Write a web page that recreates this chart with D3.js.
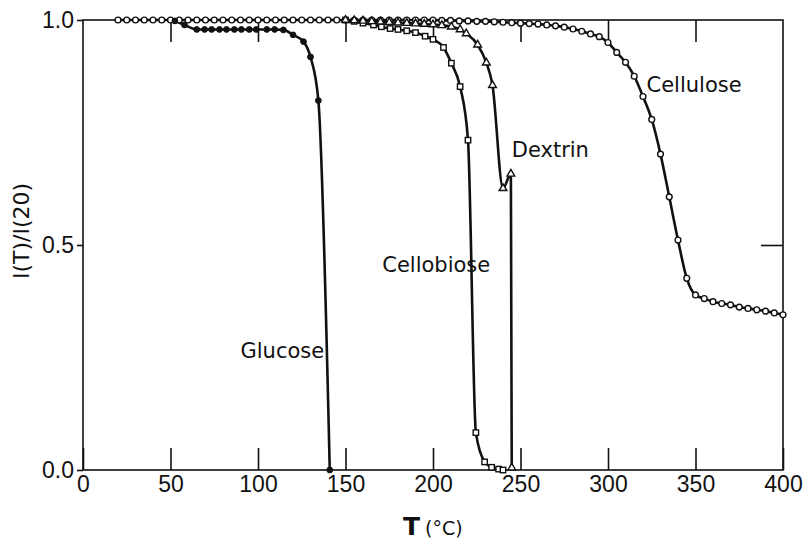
<!DOCTYPE html>
<html>
<head>
<meta charset="utf-8">
<script src="https://cdn.jsdelivr.net/npm/d3@7"></script>
<style>
  html, body { margin: 0; padding: 0; background: #fff; }
  svg { display: block; }
  .tick text { font-family: "Liberation Sans", Arial, sans-serif; font-size: 23px; fill: #111; }
  .lbl { font-family: "DejaVu Sans", sans-serif; font-size: 21px; fill: #111; }
</style>
</head>
<body>
<svg id="chart" width="804" height="543"></svg>
<script>
// Normalised intensity I(T)/I(20) versus temperature for four carbohydrates.
const xTicks = [0, 50, 100, 150, 200, 250, 300, 350, 400];
const yTicks = [0.0, 0.5, 1.0];

// Cellulose (open circles)
const celluloseT = [20,25,30,35,40,45,50,55,60,65,70,75,80,85,90,95,100,105,110,115,120,125,130,135,140,145,150,155,160,165,170,175,180,185,190,195,200,
  205,210,215,220,225,230,235,240,245,250,255,260,265,270,275,280,285,290,295,300,305,310,315,320,325,330,335,340,345,350,355,360,365,370,375,380,385,390,395,400];
const celluloseI = [1,1,1,1,1,1,1,1,1,1,1,1,1,1,1,1,1,1,1,1,1,1,1,1,1,1,1,1,1,1,1,1,1,1,1,1,1,
  0.999,0.999,0.998,0.998,0.997,0.997,0.996,0.995,0.994,0.993,0.992,0.991,0.989,0.987,0.984,0.980,0.975,0.969,0.963,0.950,
  0.928,0.906,0.875,0.830,0.779,0.702,0.607,0.511,0.426,0.389,0.381,0.374,0.370,0.367,0.362,0.359,0.356,0.353,0.349,0.345];

// Glucose (filled circles)
const glucoseT = [52.5,58,65,69.5,73.5,78,82,86.5,90.5,95,99,105,109.5,114.5,120,126,130,134.5,141];
const glucoseI = [0.998,0.989,0.979,0.979,0.979,0.979,0.979,0.979,0.979,0.979,0.979,0.979,0.979,0.978,0.967,0.952,0.918,0.821,0.0];

// Cellobiose (open squares)
const cellobioseT = [150,155,160,166,170.5,175.5,180,185,190,195.5,200,206,210.5,215.5,220,224.5,229.5,233.5,237.5,240];
const cellobioseI = [1.0,0.997,0.993,0.989,0.985,0.981,0.979,0.976,0.972,0.964,0.957,0.939,0.904,0.852,0.733,0.083,0.018,0.006,0.002,0.0];

// Dextrin (open triangles)
const dextrinT = [150,155,160,165,170,175,180,185,190,195,200,205,210.5,215.5,219,225.5,230.5,234,240,244.5,245];
const dextrinI = [1.0,0.999,0.998,0.997,0.996,0.995,0.994,0.993,0.992,0.991,0.99,0.988,0.985,0.979,0.970,0.945,0.905,0.855,0.626,0.658,0.005];

const labels = [
  { text: "Glucose",    t: 90,  v: 0.25 },
  { text: "Cellobiose", t: 171, v: 0.44 },
  { text: "Dextrin",    t: 245, v: 0.695 },
  { text: "Cellulose",  t: 322, v: 0.84 }
];

const svg = d3.select("#chart");
const x = d3.scaleLinear().domain([0, 400]).range([83, 783]);
const y = d3.scaleLinear().domain([0, 1]).range([470, 20]);

const ink = "#111";

// frame
svg.append("rect")
  .attr("x", x(0)).attr("y", y(1))
  .attr("width", x(400) - x(0)).attr("height", y(0) - y(1))
  .attr("fill", "none").attr("stroke", ink).attr("stroke-width", 1.6);

function styleAxis(g) {
  g.select(".domain").remove();
  g.selectAll(".tick line").attr("stroke", ink).attr("stroke-width", 1.6);
}

svg.append("g").attr("transform", `translate(0,${y(0)})`)
  .call(d3.axisBottom(x).tickValues(xTicks).tickSize(-22).tickPadding(5).tickFormat(d3.format("d")))
  .call(styleAxis)
  .selectAll("text").attr("dy", "0.72em");

svg.append("g").attr("transform", `translate(0,${y(1)})`)
  .call(d3.axisTop(x).tickValues(xTicks.slice(1, -1)).tickSize(-22).tickFormat(""))
  .call(styleAxis);

svg.append("g").attr("transform", `translate(${x(0)},0)`)
  .call(d3.axisLeft(y).tickValues(yTicks).tickSize(6).tickPadding(3).tickFormat(d3.format(".1f")))
  .call(styleAxis);

svg.append("g").attr("transform", `translate(${x(400)},0)`)
  .call(d3.axisRight(y).tickValues([0.5]).tickSize(-22).tickFormat(""))
  .call(styleAxis);

const line = d3.line().x(d => x(d[0])).y(d => y(d[1])).curve(d3.curveMonotoneX);
const zipSeries = (ts, vs) => ts.map((t, i) => [t, vs[i]]);

const cellulose = zipSeries(celluloseT, celluloseI);
const glucose = zipSeries(glucoseT, glucoseI);
const cellobiose = zipSeries(cellobioseT, cellobioseI);
const dextrin = zipSeries(dextrinT, dextrinI);

[cellulose, cellobiose, dextrin, glucose].forEach(s => {
  svg.append("path").datum(s).attr("d", line)
    .attr("fill", "none").attr("stroke", ink).attr("stroke-width", 2.6);
});

// markers
svg.append("g").selectAll("circle").data(cellulose).join("circle")
  .attr("cx", d => x(d[0])).attr("cy", d => y(d[1])).attr("r", 2.9)
  .attr("fill", "#fff").attr("stroke", ink).attr("stroke-width", 1.4);

svg.append("g").selectAll("rect").data(cellobiose).join("rect")
  .attr("x", d => x(d[0]) - 2.7).attr("y", d => y(d[1]) - 2.7)
  .attr("width", 5.4).attr("height", 5.4)
  .attr("fill", "#fff").attr("stroke", ink).attr("stroke-width", 1.4);

const tri = d3.symbol().type(d3.symbolTriangle).size(26);
svg.append("g").selectAll("path").data(dextrin).join("path")
  .attr("transform", d => `translate(${x(d[0])},${y(d[1])})`)
  .attr("d", tri)
  .attr("fill", "#fff").attr("stroke", ink).attr("stroke-width", 1.4);

svg.append("g").selectAll("circle").data(glucose).join("circle")
  .attr("cx", d => x(d[0])).attr("cy", d => y(d[1])).attr("r", 2.9)
  .attr("fill", ink).attr("stroke", ink).attr("stroke-width", 1);

// curve labels
svg.append("g").selectAll("text").data(labels).join("text")
  .attr("class", "lbl")
  .attr("x", d => x(d.t)).attr("y", d => y(d.v))
  .text(d => d.text);

// axis titles
const xt = svg.append("text")
  .attr("x", 403).attr("y", 535)
  .attr("font-family", "DejaVu Sans, sans-serif").attr("fill", ink);
xt.append("tspan").attr("font-size", 25).attr("font-weight", "bold").text("T");
xt.append("tspan").attr("font-size", 19).attr("dx", 5).text("(°C)");

svg.append("text")
  .attr("transform", "translate(29,231) rotate(-90)")
  .attr("text-anchor", "middle")
  .attr("font-family", "DejaVu Sans, sans-serif").attr("font-size", 22).attr("fill", ink)
  .text("I(T)/I(20)");
</script>
</body>
</html>
